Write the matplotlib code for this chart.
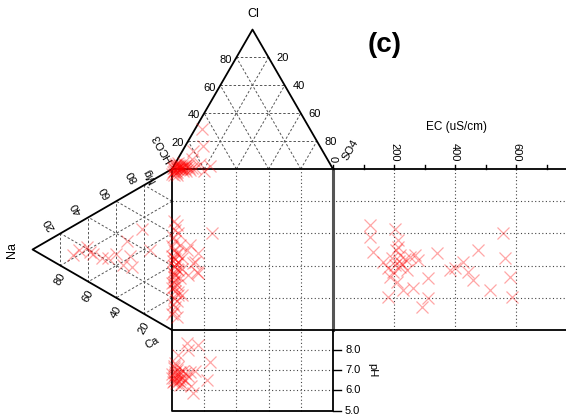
import numpy as np
import matplotlib.pyplot as plt

plt.rcParams['font.family'] = ['Liberation Sans', 'DejaVu Sans']

# --- data ---
# anion triangle (Cl %, SO4 %)
anion_cl = [29, 16.5, 13, 7, 3.5, 2, 1, 2, 0.5, 2, 3, 1.5, 0, 2.5, 1, 3, 0.5, 4, 1.5, 2,
            0, 3, 1, 2.5, 4, 0.5, 1, 2, 3.5, 1]
anion_so4 = [4, 11, 6.5, 9, 15.5, 22.5, 2, 4, 6, 1, 3, 8, 3, 5, 10, 7, 1, 2, 3.5, 6.5,
             8, 0.5, 5, 2, 5, 12, 0, 9, 1, 14]
# cation triangle (Na %, Mg %)
cation_na = [71, 67, 61, 59, 57, 46, 35, 30, 32, 21.5, 16, 29, 50, 40]
cation_mg = [11, 16, 21, 19, 18.5, 22, 23, 31, 39, 52, 42, 24.5, 20, 27]
# central square (x %, y %)
sq_x = [24.8, 11.2, 16.1, 14.3, 15.5, 9.9, 6.2, 3.7, 6.2, 9.3, 13, 16.1,
        1, 3, 2, 4, 0.5, 2, 5, 1, 3, 0, 2, 4, 1, 3, 0.5, 2, 5, 1, 3, 0, 2, 4, 1, 3,
        0.5, 2, 1, 0, 3, 1.5, 2.5, 0, 1, 2, 4, 0.5, 3, 1, 2, 0, 1.5, 6,
        1, 3, 5, 0, 2, 7, 4, 1, 9, 2.5, 6, 0.5, 3, 11, 20]
sq_y = [60.2, 52.8, 47.8, 42.2, 36, 34.2, 44.7, 23.6, 21.7, 49.7, 41.6, 35.4,
        68, 65, 62, 60, 58, 55, 53, 50, 48, 46, 44, 42, 40, 38, 36, 34, 32, 30, 28, 26, 24, 22, 20, 18,
        16, 14, 12, 10, 8, 45, 41, 52, 33, 39, 37, 43, 47, 35, 31, 29, 27, 38,
        99, 98, 100, 97, 99.5, 98.5, 100, 96.5, 99, 97.5, 100, 98, 96, 99.5, 99]
# EC panel (EC uS/cm, y %)
ec_val = [121, 121, 203, 131, 213, 220, 253, 269, 279, 341, 164, 180, 187, 203, 243, 312,
          230, 262, 180, 312, 292, 558, 476, 564, 426, 384, 400, 443, 459, 581, 515, 587,
          213, 194, 205, 215, 225, 235, 198, 210, 220]
ec_y = [65.2, 57.8, 62.7, 48.4, 51.6, 46.6, 45.3, 46.6, 43.5, 47.8, 42.2, 38.5, 32.9, 40.4, 37.3, 32.3,
        24.8, 26.1, 20.5, 19.9, 14.3, 60.2, 49.7, 44.7, 42.2, 37.3, 38.5, 36.0, 31.1, 32.9, 24.8, 20.5,
        55.9, 44.7, 50, 43, 41, 44, 36, 30, 39]
# pH panel (x %, pH)
ph_x = [9.3, 16, 3.7, 23.6, 21.7, 13, 2, 9.9, 1, 3, 5, 7, 0, 2, 4, 6, 8, 10, 1, 3, 5,
        0.5, 2.5, 4.5, 6.5, 11, 1.5, 3.5, 12, 0, 2, 5, 8, 14, 1, 4]
ph_val = [8.35, 8.25, 7.75, 7.4, 6.5, 5.85, 7.35, 8.0, 7.1, 7.0, 6.9, 6.95, 6.8, 6.75, 6.7, 6.6,
          6.85, 6.7, 6.6, 6.5, 6.55, 6.4, 6.35, 6.45, 6.3, 6.9, 7.2, 7.15, 6.2, 6.6, 6.9, 6.25,
          6.5, 6.95, 6.45, 6.8]

H = np.sqrt(3) / 2 * 100
S = 1.61  # px per unit


def top_xy(cl, so4):
    cl = np.asarray(cl) / 100
    so4 = np.asarray(so4) / 100
    return so4 * 100 + cl * 50, 100 + H * cl


def left_xy(na, mg):
    na = np.asarray(na) / 100
    mg = np.asarray(mg) / 100
    return -H * na, na * 50 + mg * 100


def ec_x(ec):
    return 100 + np.asarray(ec) * (61 / 200) / S


def ph_y(ph):
    return -50 + (np.asarray(ph) - 5) * 12.5


fig = plt.figure(figsize=(5.66, 4.17), dpi=100)
ax = fig.add_axes([0, 0, 1, 1])
ax.set_xlim(-172 / S, (566 - 172) / S)
ax.set_ylim((330 - 417) / S, 330 / S)
ax.axis('off')

grid_kw = dict(color='#444444', lw=0.8, ls=(0, (1, 2.2)), zorder=1)
tri_kw = dict(color='#555555', lw=0.7, ls=(0, (2.5, 2)), zorder=1)
edge_kw = dict(color='black', lw=1.3, zorder=3)
fs = 8

# triangle grids
for k in [0.2, 0.4, 0.6, 0.8]:
    ax.plot([50 * k, 100 - 50 * k], [100 + H * k] * 2, **tri_kw)
    ax.plot([100 * k, 100 * k + 50 * (1 - k)], [100, 100 + H * (1 - k)], **tri_kw)
    ax.plot([100 * (1 - k), 50 * (1 - k)], [100, 100 + H * (1 - k)], **tri_kw)
    ax.plot([-H * k, -H * k], [50 * k, 50 * k + 100 * (1 - k)], **tri_kw)
    ax.plot([0, -H * (1 - k)], [100 * k, 50 * (1 - k) + 100 * k], **tri_kw)
    ax.plot([0, -H * (1 - k)], [100 * (1 - k), 50 * (1 - k)], **tri_kw)

# square / EC / pH grids
for g in [20, 40, 60, 80]:
    ax.plot([0, ec_x(900)], [g, g], **grid_kw)
    ax.plot([g, g], [-50, 100], **grid_kw)
for e in [200, 400, 600]:
    ax.plot([ec_x(e)] * 2, [0, 100], **grid_kw)
for p in [6, 7, 8]:
    ax.plot([0, 100], [ph_y(p)] * 2, **grid_kw)

# outlines
ax.plot([0, 50, 100], [100, 100 + H, 100], **edge_kw)
ax.plot([0, -H, 0], [100, 50, 0], **edge_kw)
ax.plot([0, 100, 100, 0, 0], [0, 0, 100, 100, 0], **edge_kw)
ax.plot([100, 100], [0, 100], color='#555555', lw=2.2, zorder=3)
ax.plot([0, 0, 100, 100], [0, -50, -50, 0], **edge_kw)
ax.plot([100, ec_x(900)], [100, 100], **edge_kw)
ax.plot([100, ec_x(900)], [0, 0], **edge_kw)

# EC axis
for e in range(0, 800, 100):
    ax.plot([ec_x(e)] * 2, [100, 102.6], color='black', lw=1.0, zorder=3)
for e in [0, 200, 400, 600]:
    ax.text(ec_x(e), 104.5, str(e), rotation=270, ha='center', va='bottom', fontsize=fs)
ax.text(ec_x(600) - 37, 126, 'EC (uS/cm)', ha='center', va='center', fontsize=8.5)

# pH axis
for p in [5, 6, 7, 8]:
    ax.plot([100, 105], [ph_y(p)] * 2, color='black', lw=1.0, zorder=3)
    ax.text(107.5, ph_y(p), f'{p:.1f}', ha='left', va='center', fontsize=fs)
ax.text(124.5, -25, 'pH', rotation=270, ha='center', va='center', fontsize=fs)

# triangle labels
for k in [20, 40, 60, 80]:
    x, y = top_xy(k, 0)
    ax.text(x - 6.5, y - 1.4, str(k), ha='center', va='center', fontsize=fs)
    x, y = top_xy(100 - k, k)
    ax.text(x + 8.5, y - 0.3, str(k), ha='center', va='center', fontsize=fs)
    x, y = left_xy(100 - k, k)
    ax.text(x - 6.8, y + 5.6, str(k), rotation=120, ha='center', va='center', fontsize=fs)
    x, y = left_xy(k, 0)
    ax.text(x, y - 8.7, str(k), rotation=60, ha='center', va='center', fontsize=fs)
ax.text(50.3, 196.3, 'Cl', ha='center', va='center', fontsize=9)
ax.text(-5.6, 113, 'HCO3', rotation=120, ha='center', va='center', fontsize=fs)
ax.text(110.6, 111.8, 'SO4', rotation=60, ha='center', va='center', fontsize=fs)
ax.text(-99.4, 49.7, 'Na', rotation=90, ha='center', va='center', fontsize=9)
ax.text(-14, 96, 'Mg', rotation=120, ha='center', va='center', fontsize=fs)
ax.text(-12.4, -8.1, 'Ca', rotation=30, ha='center', va='center', fontsize=fs)
ax.text(132.3, 177, '(c)', ha='center', va='center', fontsize=20, fontweight='bold')

# samples
mk = dict(marker='x', ls='none', color='red', ms=8, mew=0.9, alpha=0.35, zorder=4)
ax.plot(*top_xy(anion_cl, anion_so4), **mk)
ax.plot(*left_xy(cation_na, cation_mg), **mk)
ax.plot(sq_x, sq_y, **mk)
ax.plot(ec_x(ec_val), ec_y, **mk)
ax.plot(ph_x, ph_y(ph_val), **mk)

fig.savefig('out.png', dpi=100)
